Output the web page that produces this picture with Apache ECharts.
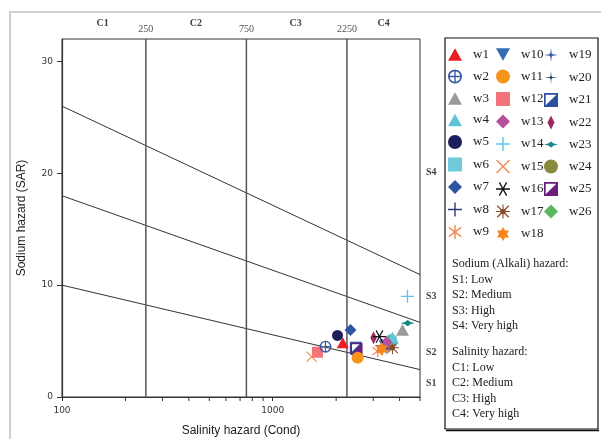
<!DOCTYPE html>
<html><head><meta charset="utf-8">
<script src="https://cdn.jsdelivr.net/npm/echarts@6/dist/echarts.min.js"></script>
<style>html,body{margin:0;padding:0;background:#fff}#c{width:601px;height:439px}</style>
</head><body><div id="c"></div>
<script>
// ---- data ----
var names = ['w1','w2','w3','w4','w5','w6','w7','w8','w9','w10','w11','w12','w13','w14','w15','w16','w17','w18','w19','w20','w21','w22','w23','w24','w25','w26'];
var cond = {w1:2150,w2:1780,w3:4130,w4:3700,w5:2030,w6:3650,w7:2340,w8:3300,w9:3150,w10:3400,w11:2530,w12:1630,w13:3470,w14:4360,w15:1530,w16:3210,w17:3700,w18:3290,w19:3450,w20:3500,w21:2480,w22:3010,w23:4370,w24:3550,w25:2500,w26:3600};
var sar  = {w1:4.85,w2:4.5,w3:6.0,w4:5.3,w5:5.5,w6:5.0,w7:6.0,w8:4.6,w9:4.1,w10:4.6,w11:3.5,w12:4.0,w13:4.9,w14:9.0,w15:3.6,w16:5.4,w17:4.4,w18:4.3,w19:4.3,w20:4.5,w21:4.4,w22:5.3,w23:6.6,w24:4.7,w25:4.3,w26:5.1};
var drawOrder = ['w6','w8','w10','w20','w24','w26','w21','w9','w19','w17','w4','w13','w18','w22','w16','w3','w23','w14','w12','w15','w2','w25','w1','w5','w7','w11'];
var salinityBounds = [250, 750, 2250];
var salinityClassLabels = ['C1','C2','C3','C4'];
var salinityClassCenters = [156, 432, 1285, 3360];
var sodiumLabels = ['S1','S2','S3','S4'];
var sodiumLabelSar = [1.2, 4.0, 9.0, 20.1];
// hazard boundary lines: SAR at EC=100 and EC=5000
var hazardLines = [[10.0, 2.45], [17.99, 6.67], [26.0, 10.94]];
var minorTicks = [200,300,400,500,600,700,800,900,2000,3000,4000,5000];
var yTicks = [0,10,20,30];
var legendCols = [['w1','w2','w3','w4','w5','w6','w7','w8','w9'],['w10','w11','w12','w13','w14','w15','w16','w17','w18'],['w19','w20','w21','w22','w23','w24','w25','w26']];
var sodiumText = ['Sodium (Alkali) hazard:','S1: Low','S2: Medium','S3: High','S4: Very high'];
var salinityText = ['Salinity hazard:','C1: Low','C2: Medium','C3: High','C4: Very high'];

// ---- styles ----
var P = {
  tri:'path://M50,0L100,90L0,90Z',
  itri:'path://M0,0L100,0L50,90Z',
  circ:'circle',
  ocross:'path://M50,0A50,50 0 1,1 50,100A50,50 0 1,1 50,0Z M50,12A38,38 0 1,0 50,88A38,38 0 1,0 50,12Z M45,0L55,0L55,100L45,100Z M0,45L100,45L100,55L0,55Z',
  sq:'rect',
  dia:'path://M50,0L100,50L50,100L0,50Z',
  plus:'path://M45,0L55,0L55,45L100,45L100,55L55,55L55,100L45,100L45,55L0,55L0,45L45,45Z',
  x:'path://M0,7L7,0L50,43L93,0L100,7L57,50L100,93L93,100L50,57L7,100L0,93L43,50Z',
  ast6:'path://M45,0L55,0L55,100L45,100Z M3,22L8,13L97,78L92,87Z M92,13L97,22L8,87L3,78Z',
  ast16:'path://M0,45L100,45L100,55L0,55Z M20,5L28,0L80,95L72,100Z M72,0L80,5L28,100L20,95Z',
  ast8:'path://M46,0L54,0L54,100L46,100Z M0,46L100,46L100,54L0,54Z M12,6L94,88L88,94L6,12Z M88,6L94,12L12,94L6,88Z M50,30A20,20 0 1,1 50,70A20,20 0 1,1 50,30Z',
  star6:'path://M50,0L93,75L7,75Z M50,100L7,25L93,25Z',
  star4:'path://M50,0L55,38L62,45L100,50L62,55L55,62L50,100L45,62L38,55L0,50L38,45L45,38Z',
  star4t:'path://M50,0L53,40L60,47L100,50L60,53L53,60L50,100L47,60L40,53L0,50L40,47L47,40Z',
  halfsq:'path://M0,0L100,0L100,100L0,100Z M12,12L12,88L88,88L88,12Z M88,12L88,88L12,88Z',
  thindia:'path://M25,0L50,50L25,100L0,50Z',
  leaf:'path://M0,22L30,14L50,0L70,14L100,22L70,30L50,44L30,30Z'
};
var sty = {
  w1:[P.tri,'#ed1c24',12], w2:[P.ocross,'#3a5aa8',12], w3:[P.tri,'#9a9a9a',13], w4:[P.tri,'#5cc6d6',13],
  w5:[P.circ,'#1b1f5c',11], w6:[P.sq,'#6fcbdc',11], w7:[P.dia,'#2e55a2',12], w8:[P.plus,'#2d3b78',13],
  w9:[P.ast6,'#f3874f',12], w10:[P.itri,'#2f6cb5',12], w11:[P.circ,'#f7941d',12], w12:[P.sq,'#f2737a',11],
  w13:[P.dia,'#b64f9e',12], w14:[P.plus,'#5fc3ea',13], w15:[P.x,'#f3874f',11], w16:[P.ast16,'#111111',13],
  w17:[P.ast8,'#8a4b2d',13], w18:[P.star6,'#f7861d',14], w19:[P.star4,'#3b5ca8',13], w20:[P.star4t,'#22406e',13],
  w21:[P.halfsq,'#2c4e9f',12], w22:[P.thindia,'#9c2a5c',13], w23:[P.leaf,'#138a86',14], w24:[P.circ,'#8a8a3c',12],
  w25:[P.halfsq,'#6a1f7a',12], w26:[P.dia,'#5cb85c',12]
};
var serif = 'Liberation Serif';
var chart = echarts.init(document.getElementById('c'));
var series = [];
hazardLines.forEach(function(h){
  series.push({type:'line',silent:true,symbol:'none',data:[[100,h[0]],[5000,h[1]]],lineStyle:{color:'#333',width:1},z:1,animation:false});
});
salinityBounds.forEach(function(b){
  series.push({type:'line',silent:true,symbol:'none',data:[[b,0],[b,32]],lineStyle:{color:'#555',width:1.5},z:1,animation:false});
});
series.push({type:'custom',silent:true,clip:false,data:minorTicks.map(function(v){return [v,0];}),
  renderItem:function(params,api){var p=api.coord([api.value(0),0]);return {type:'line',shape:{x1:p[0],y1:p[1],x2:p[0],y2:p[1]+4},style:{stroke:'#333',lineWidth:1}};},z:2,animation:false});
series.push({type:'scatter',silent:true,clip:false,symbolSize:0,data:salinityClassCenters.map(function(c,i){return [c,32,salinityClassLabels[i]];}),
  label:{show:true,position:'top',distance:11,formatter:function(p){return p.value[2];},fontFamily:serif,fontWeight:'bold',fontSize:10,color:'#111'},animation:false});
series.push({type:'scatter',silent:true,clip:false,symbolSize:0,data:salinityBounds.map(function(c){return [c,32,String(c)];}),
  label:{show:true,position:'top',distance:5,formatter:function(p){return p.value[2];},fontFamily:serif,fontSize:10,color:'#222'},animation:false});
series.push({type:'scatter',silent:true,clip:false,symbolSize:0,data:sodiumLabelSar.map(function(s,i){return [5000,s,sodiumLabels[i]];}),
  label:{show:true,position:'right',distance:6,formatter:function(p){return p.value[2];},fontFamily:serif,fontWeight:'bold',fontSize:10,color:'#111'},animation:false});
drawOrder.forEach(function(n){
  var s = sty[n];
  series.push({name:n,type:'scatter',clip:false,symbol:s[0],symbolSize:s[2],symbolKeepAspect:true,
    itemStyle:{color:s[1],opacity:1},data:[[cond[n],sar[n]]],z:5,animation:false});
});

var legends = legendCols.map(function(col,i){
  return {orient:'vertical',left:[448,496,544][i],top:48,padding:0,itemGap:8.5,itemWidth:14,itemHeight:14,selectedMode:false,
    data:col,textStyle:{fontFamily:serif,fontSize:13,color:'#222',padding:[0,0,0,6]}};
});

var graphic = [
  {type:'rect',shape:{x:10,y:12,width:640,height:460},style:{fill:'none',stroke:'#cfcfcf',lineWidth:2},silent:true},
  {type:'rect',shape:{x:445,y:38,width:153,height:391},style:{fill:'#fff',stroke:'#111',lineWidth:1.2},z:-1,silent:true},
  {type:'line',shape:{x1:446,y1:430.5,x2:599,y2:430.5},style:{stroke:'#111',lineWidth:1.5},silent:true}
];
sodiumText.forEach(function(t,i){ graphic.push({type:'text',left:452,top:258+i*15.5,style:{text:t,font:'12px "Liberation Serif"',fill:'#222'},silent:true}); });
salinityText.forEach(function(t,i){ graphic.push({type:'text',left:452,top:346+i*15.5,style:{text:t,font:'12px "Liberation Serif"',fill:'#222'},silent:true}); });

chart.setOption({
  animation:false,
  backgroundColor:'#fff',
  grid:{left:62,right:181,top:39,bottom:42,show:true,borderColor:'#333',borderWidth:1,outerBoundsMode:'none',containLabel:false},
  legend:legends,
  xAxis:{type:'log',min:100,max:5000,logBase:10,name:'Salinity hazard (Cond)',nameLocation:'middle',nameGap:28,
    nameTextStyle:{fontFamily:'Liberation Sans',fontSize:12,color:'#222'},
    axisLine:{show:true,lineStyle:{color:'#333',width:1.2}},axisTick:{show:true,length:4,lineStyle:{color:'#333'}},
    axisLabel:{fontFamily:'DejaVu Sans',fontSize:9,color:'#333',margin:9,showMaxLabel:false,formatter:function(v){return v==5000?'':String(v);}},
    splitLine:{show:false},minorTick:{show:false}},
  yAxis:{type:'value',min:0,max:32,interval:10,name:'Sodium hazard (SAR)',nameLocation:'middle',nameGap:34,
    nameTextStyle:{fontFamily:'Liberation Sans',fontSize:12,color:'#222'},
    axisLine:{show:true,lineStyle:{color:'#333',width:1.2}},axisTick:{show:true,length:5,lineStyle:{color:'#333'}},
    axisLabel:{fontFamily:'DejaVu Sans',fontSize:9,color:'#333',margin:9,showMaxLabel:false,formatter:function(v){return yTicks.indexOf(v)>=0?String(v):'';}},
    splitLine:{show:false}},
  graphic:graphic,
  series:series
});
</script></body></html>
